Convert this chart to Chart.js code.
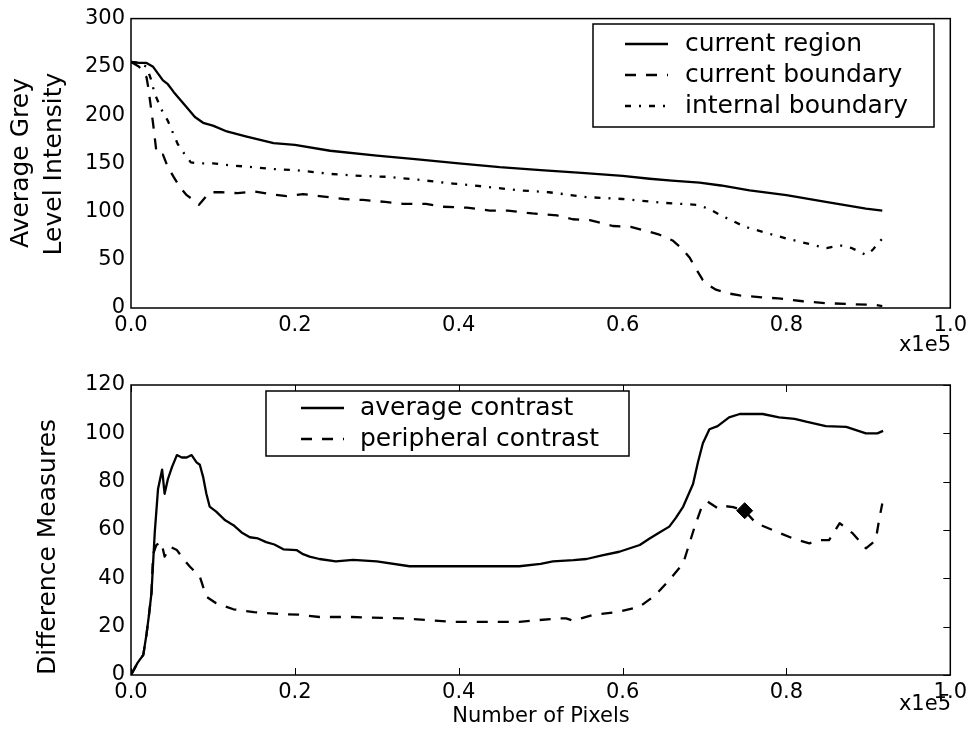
<!DOCTYPE html>
<html>
<head>
<meta charset="utf-8">
<script src="https://cdn.jsdelivr.net/npm/chart.js@4/dist/chart.umd.min.js"></script>
<style>
  body { margin: 0; background: #fff; }
  #wrap { position: relative; width: 972px; height: 732px; }
  canvas { position: absolute; left: 0; }
</style>
</head>
<body>
<div id="wrap">
  <canvas id="topChart" width="972" height="360" style="top:0"></canvas>
  <canvas id="bottomChart" width="972" height="372" style="top:360px"></canvas>
</div>
<script>
// x values are in units of 1e5 pixels
const xTickLabels = ['0.0', '0.2', '0.4', '0.6', '0.8', '1.0'];

// top panel: average grey level intensity
const regionX = [0, 0.01, 0.019, 0.027, 0.033, 0.039, 0.045, 0.052, 0.058, 0.064, 0.07, 0.078, 0.088, 0.1, 0.117, 0.14, 0.174, 0.2, 0.243, 0.3, 0.35, 0.4, 0.45, 0.5, 0.55, 0.6, 0.633, 0.66, 0.694, 0.72, 0.755, 0.8, 0.848, 0.897, 0.917];
const regionY = [255, 254, 254, 250, 243, 236, 232, 224, 218, 212, 206, 198, 192, 189, 183, 178, 171, 169, 163, 158, 154, 150, 146, 143, 140, 137, 134, 132, 130, 127, 122, 117, 110, 103, 101];

const boundaryX = [0, 0.01, 0.019, 0.021, 0.027, 0.031, 0.035, 0.039, 0.045, 0.052, 0.06, 0.068, 0.076, 0.083, 0.09, 0.096, 0.11, 0.13, 0.15, 0.17, 0.19, 0.21, 0.23, 0.26, 0.283, 0.31, 0.332, 0.36, 0.38, 0.41, 0.438, 0.46, 0.49, 0.52, 0.539, 0.56, 0.588, 0.61, 0.633, 0.645, 0.661, 0.672, 0.682, 0.69, 0.698, 0.706, 0.714, 0.73, 0.743, 0.77, 0.79, 0.82, 0.848, 0.88, 0.91, 0.917];
const boundaryY = [255, 250, 239, 229, 191, 162, 158, 159, 146, 136, 125, 117, 112, 107, 114, 120, 120, 119, 121, 118, 116, 118, 116, 113, 112, 110, 108, 108, 105, 104, 101, 101, 98, 96, 92, 91, 85, 84, 79, 76, 70, 62, 52, 40, 29, 23, 19, 15, 13, 11, 10, 7, 5, 4, 3, 2];

const internalX = [0, 0.01, 0.019, 0.024, 0.029, 0.037, 0.045, 0.051, 0.057, 0.065, 0.073, 0.081, 0.09, 0.1, 0.12, 0.149, 0.174, 0.2, 0.243, 0.28, 0.312, 0.35, 0.393, 0.43, 0.474, 0.51, 0.556, 0.6, 0.65, 0.69, 0.705, 0.72, 0.75, 0.8, 0.849, 0.865, 0.88, 0.897, 0.905, 0.917];
const internalY = [255, 254, 250, 238, 222, 206, 194, 182, 170, 160, 151, 150, 150, 150, 148, 146, 144, 143, 139, 137, 136, 133, 129, 126, 122, 120, 115, 113, 109, 107, 103, 96, 84, 72, 62, 65, 62, 55, 60, 72];

// bottom panel: difference measures
const averageX = [0, 0.008, 0.015, 0.019, 0.022, 0.025, 0.029, 0.033, 0.038, 0.041, 0.045, 0.05, 0.056, 0.062, 0.068, 0.074, 0.08, 0.084, 0.088, 0.092, 0.096, 0.104, 0.115, 0.125, 0.135, 0.145, 0.155, 0.165, 0.175, 0.186, 0.202, 0.21, 0.218, 0.23, 0.25, 0.271, 0.3, 0.34, 0.4, 0.474, 0.5, 0.515, 0.54, 0.556, 0.575, 0.596, 0.621, 0.633, 0.645, 0.657, 0.665, 0.674, 0.686, 0.692, 0.698, 0.706, 0.716, 0.73, 0.743, 0.771, 0.791, 0.81, 0.824, 0.848, 0.873, 0.897, 0.911, 0.918];
const averageY = [0, 5, 8.3, 17, 25, 34, 59, 77, 85, 75, 81, 86, 91, 90, 90, 91, 88, 87, 82, 75, 69.7, 67.6, 64, 62, 59, 57, 56.5, 55, 54, 52, 51.7, 50, 49, 48, 47, 47.6, 47, 45, 45, 45, 46, 47, 47.5, 48, 49.5, 51, 53.8, 56.5, 59, 61.4, 65, 69.7, 79, 88, 95.9, 101.7, 103, 106.6, 108, 108, 106.6, 106, 104.8, 103, 102.7, 100, 100, 101];

const peripheralX = [0, 0.008, 0.015, 0.019, 0.022, 0.025, 0.027, 0.031, 0.037, 0.041, 0.048, 0.056, 0.064, 0.072, 0.084, 0.092, 0.104, 0.125, 0.15, 0.182, 0.204, 0.23, 0.27, 0.332, 0.393, 0.474, 0.52, 0.531, 0.54, 0.563, 0.596, 0.621, 0.64, 0.657, 0.674, 0.688, 0.696, 0.704, 0.716, 0.722, 0.735, 0.749, 0.763, 0.783, 0.808, 0.828, 0.84, 0.852, 0.865, 0.881, 0.897, 0.909, 0.913, 0.917];
const peripheralY = [0, 5, 8.3, 17, 25, 34, 50, 53.8, 55, 49, 53, 51.7, 48, 44.8, 40.7, 32.4, 29.7, 27.2, 26, 25.2, 25, 24, 24, 23.4, 22, 22, 23.4, 23.4, 22.5, 24.8, 26.2, 28.3, 33, 39.3, 46.2, 61.4, 69, 71.7, 69, 70, 69.5, 67.9, 62.8, 60, 56.5, 54.5, 55.8, 55.8, 62.8, 58.6, 52.4, 55.8, 64, 71];

const markerX = [0.749];
const markerY = [68];

Chart.defaults.font.family = "'DejaVu Sans', 'Bitstream Vera Sans', sans-serif";
Chart.defaults.color = '#000';

function toPoints(xs, ys) {
  return xs.map((x, i) => ({ x: x, y: ys[i] }));
}

function lineSet(label, xs, ys, dash) {
  return {
    label: label,
    data: toPoints(xs, ys),
    borderColor: '#000',
    borderWidth: 2.3,
    borderDash: dash,
    borderJoinStyle: 'round',
    pointRadius: 0,
    fill: false,
    tension: 0
  };
}

// frame, inside ticks, boxed legend and loose texts
const framePlugin = {
  id: 'frame',
  afterDraw(chart, args, opts) {
    const ctx = chart.ctx;
    const a = chart.chartArea;
    ctx.save();
    ctx.strokeStyle = '#000';
    ctx.fillStyle = '#000';

    if (opts.innerTicks) {
      ctx.lineWidth = 1;
      const xs = chart.scales.x;
      const ys = chart.scales.y;
      ctx.beginPath();
      xs.ticks.forEach(t => {
        const px = Math.round(xs.getPixelForValue(t.value)) + 0.5;
        ctx.moveTo(px, a.top); ctx.lineTo(px, a.top + 7);
        ctx.moveTo(px, a.bottom); ctx.lineTo(px, a.bottom - 7);
      });
      ys.ticks.forEach(t => {
        const py = Math.round(ys.getPixelForValue(t.value)) + 0.5;
        ctx.moveTo(a.right, py); ctx.lineTo(a.right - 7, py);
      });
      ctx.stroke();
    }

    ctx.lineWidth = 1.5;
    ctx.strokeRect(a.left, a.top, a.right - a.left, a.bottom - a.top);

    const lg = opts.legend;
    ctx.fillStyle = '#fff';
    ctx.fillRect(lg.x, lg.y, lg.w, lg.h);
    ctx.strokeRect(lg.x, lg.y, lg.w, lg.h);
    ctx.fillStyle = '#000';
    ctx.font = lg.font;
    ctx.textBaseline = 'middle';
    ctx.textAlign = 'left';
    let row = 0;
    chart.data.datasets.forEach(ds => {
      if (!ds.label) return;
      const y = lg.rows[row++];
      ctx.lineWidth = ds.borderWidth;
      ctx.setLineDash(ds.borderDash || []);
      ctx.beginPath();
      ctx.moveTo(lg.sampleX, y);
      ctx.lineTo(lg.sampleX + lg.sampleW, y);
      ctx.stroke();
      ctx.setLineDash([]);
      ctx.fillText(ds.label, lg.textX, y);
    });

    opts.texts.forEach(t => {
      ctx.save();
      ctx.font = t.font;
      ctx.textAlign = t.align || 'center';
      ctx.textBaseline = 'middle';
      ctx.translate(t.x, t.y);
      if (t.rotate) ctx.rotate(-Math.PI / 2);
      ctx.fillText(t.text, 0, 0);
      ctx.restore();
    });
    ctx.restore();
  }
};

function makeOptions(yMax, yStep, canvasH, top, frame) {
  return {
    responsive: false,
    animation: false,
    layout: { padding: { left: 0, right: 21, top: top, bottom: 0 } },
    plugins: {
      legend: { display: false },
      tooltip: { enabled: false },
      frame: frame
    },
    scales: {
      x: {
        type: 'linear',
        min: 0,
        max: 1,
        grid: { display: false, drawTicks: false },
        border: { display: false },
        ticks: {
          stepSize: 0.2,
          padding: 5,
          font: { size: 21 },
          callback: (v, i) => xTickLabels[i]
        },
        afterFit: s => { s.height = canvasH - top - 290; }
      },
      y: {
        min: 0,
        max: yMax,
        grid: { display: false, drawTicks: false },
        border: { display: false },
        ticks: { stepSize: yStep, padding: 6, font: { size: 21 } },
        afterFit: s => { s.width = 131; }
      }
    }
  };
}

new Chart(document.getElementById('topChart'), {
  type: 'line',
  data: {
    datasets: [
      lineSet('current region', regionX, regionY, []),
      lineSet('current boundary', boundaryX, boundaryY, [11, 10]),
      lineSet('internal boundary', internalX, internalY, [6, 8, 2, 8])
    ]
  },
  options: makeOptions(300, 50, 360, 18, {
    innerTicks: false,
    legend: { x: 593, y: 24, w: 341, h: 103, sampleX: 625, sampleW: 43, textX: 685, rows: [44, 75, 106], font: '25px "DejaVu Sans"' },
    texts: [
      { text: 'Average Grey', x: 21, y: 163, rotate: true, font: '25px "DejaVu Sans"' },
      { text: 'Level Intensity', x: 54, y: 164, rotate: true, font: '25px "DejaVu Sans"' },
      { text: 'x1e5', x: 951, y: 346, align: 'right', font: '21px "DejaVu Sans"' }
    ]
  }),
  plugins: [framePlugin]
});

new Chart(document.getElementById('bottomChart'), {
  type: 'line',
  data: {
    datasets: [
      lineSet('average contrast', averageX, averageY, []),
      lineSet('peripheral contrast', peripheralX, peripheralY, [11, 10]),
      {
        type: 'scatter',
        data: toPoints(markerX, markerY),
        pointStyle: 'rectRot',
        pointRadius: 8,
        backgroundColor: '#000',
        borderColor: '#000'
      }
    ]
  },
  options: makeOptions(120, 20, 372, 25, {
    innerTicks: true,
    legend: { x: 266, y: 31, w: 363, h: 65, sampleX: 301, sampleW: 43, textX: 360, rows: [48, 79], font: '25px "DejaVu Sans"' },
    texts: [
      { text: 'Difference Measures', x: 48, y: 187, rotate: true, font: '25px "DejaVu Sans"' },
      { text: 'x1e5', x: 951, y: 345, align: 'right', font: '21px "DejaVu Sans"' },
      { text: 'Number of Pixels', x: 541, y: 357, font: '21px "DejaVu Sans"' }
    ]
  }),
  plugins: [framePlugin]
});
</script>
</body>
</html>
